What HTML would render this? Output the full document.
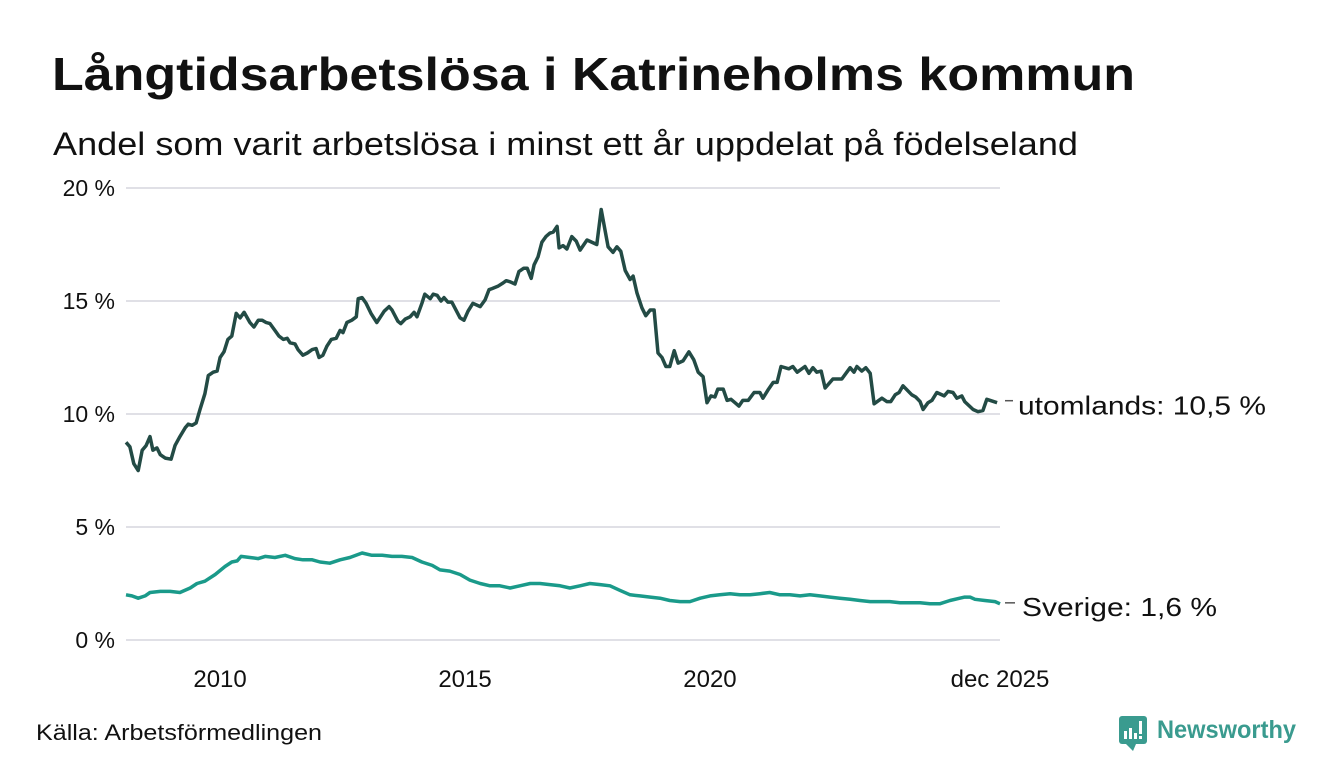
<!DOCTYPE html>
<html><head><meta charset="utf-8"><style>
html,body{margin:0;padding:0;background:#fff;width:1340px;height:780px;overflow:hidden}
svg text{font-family:"Liberation Sans","DejaVu Sans",sans-serif;fill:#111}
</style></head><body>
<svg id="chart" width="1340" height="780" xmlns="http://www.w3.org/2000/svg">
<text x="52" y="90" font-size="46" font-weight="bold" textLength="1083" lengthAdjust="spacingAndGlyphs">Långtidsarbetslösa i Katrineholms kommun</text>
<text x="53" y="155" font-size="32" textLength="1025" lengthAdjust="spacingAndGlyphs">Andel som varit arbetslösa i minst ett år uppdelat på födelseland</text>
<g id="grid"></g>
<g id="yticks"></g>
<g id="xticks"></g>
<g id="series"></g>
<text x="36" y="740" font-size="22" textLength="286" lengthAdjust="spacingAndGlyphs">Källa: Arbetsförmedlingen</text>
<g>
<rect x="1119" y="716" width="28" height="28" rx="3" fill="#3a9b8f"/>
<path d="M1126 744 L1133 751 L1136 744Z" fill="#3a9b8f"/>
<rect x="1124" y="731" width="3" height="8" fill="#fff"/><rect x="1129" y="728" width="3" height="11" fill="#fff"/><rect x="1134" y="733" width="3" height="6" fill="#fff"/><rect x="1139" y="721" width="3" height="13" fill="#fff"/><rect x="1139" y="736" width="3" height="3" fill="#fff"/>
<text x="1157" y="738" font-size="25" font-weight="bold" style="fill:#3a9b8f" textLength="139" lengthAdjust="spacingAndGlyphs">Newsworthy</text>
</g>
</svg>
<script>
const yTicks=[0,5,10,15,20];
const yTickLabels=["0 %","5 %","10 %","15 %","20 %"];
const xTicks=[2010,2015,2020,2025.92];
const xTickLabels=["2010","2015","2020","dec 2025"];
const utomDates=[2008.08,2008.16,2008.24,2008.33,2008.41,2008.49,2008.57,2008.63,2008.71,2008.78,2008.88,2009.0,2009.08,2009.18,2009.29,2009.35,2009.43,2009.51,2009.59,2009.69,2009.76,2009.86,2009.94,2010.0,2010.08,2010.16,2010.24,2010.33,2010.41,2010.49,2010.61,2010.69,2010.78,2010.86,2010.94,2011.02,2011.12,2011.2,2011.29,2011.37,2011.43,2011.53,2011.59,2011.69,2011.78,2011.88,2011.96,2012.02,2012.1,2012.18,2012.27,2012.37,2012.45,2012.51,2012.59,2012.69,2012.78,2012.82,2012.9,2012.98,2013.08,2013.2,2013.35,2013.45,2013.51,2013.63,2013.69,2013.78,2013.88,2013.96,2014.02,2014.12,2014.18,2014.29,2014.35,2014.43,2014.51,2014.57,2014.65,2014.73,2014.9,2014.98,2015.06,2015.16,2015.31,2015.41,2015.49,2015.55,2015.67,2015.78,2015.84,2015.92,2016.02,2016.1,2016.2,2016.27,2016.35,2016.41,2016.49,2016.57,2016.65,2016.73,2016.8,2016.88,2016.92,2017.0,2017.08,2017.18,2017.27,2017.35,2017.49,2017.69,2017.78,2017.92,2018.02,2018.1,2018.18,2018.27,2018.37,2018.43,2018.51,2018.61,2018.69,2018.78,2018.86,2018.94,2019.02,2019.1,2019.18,2019.27,2019.35,2019.45,2019.57,2019.67,2019.76,2019.86,2019.94,2020.02,2020.1,2020.16,2020.27,2020.35,2020.43,2020.51,2020.59,2020.67,2020.78,2020.9,2021.02,2021.08,2021.18,2021.29,2021.37,2021.45,2021.61,2021.69,2021.78,2021.94,2022.02,2022.1,2022.18,2022.27,2022.35,2022.51,2022.69,2022.86,2022.94,2023.0,2023.1,2023.18,2023.27,2023.35,2023.51,2023.61,2023.69,2023.78,2023.86,2023.94,2024.12,2024.2,2024.29,2024.35,2024.45,2024.53,2024.63,2024.78,2024.86,2024.96,2025.04,2025.14,2025.2,2025.37,2025.47,2025.57,2025.65,2025.86,2025.92];
const utomValues=[8.75,8.55,7.8,7.5,8.4,8.6,9.0,8.4,8.5,8.2,8.05,8.0,8.6,9.0,9.4,9.55,9.5,9.6,10.2,10.9,11.7,11.85,11.9,12.5,12.75,13.3,13.45,14.45,14.25,14.5,14.05,13.85,14.15,14.15,14.05,14.0,13.7,13.45,13.3,13.35,13.15,13.1,12.85,12.6,12.7,12.85,12.9,12.5,12.6,13.0,13.3,13.35,13.7,13.6,14.05,14.15,14.3,15.1,15.15,14.9,14.45,14.05,14.55,14.75,14.6,14.1,14.0,14.2,14.3,14.5,14.3,14.9,15.3,15.1,15.3,15.25,15.0,15.15,14.95,14.95,14.25,14.15,14.55,14.9,14.75,15.05,15.5,15.55,15.65,15.8,15.9,15.85,15.75,16.3,16.45,16.45,16.0,16.6,16.95,17.6,17.85,18.0,18.05,18.3,17.35,17.45,17.3,17.85,17.65,17.25,17.7,17.5,19.05,17.4,17.15,17.4,17.2,16.35,15.95,16.1,15.35,14.7,14.35,14.6,14.6,12.7,12.5,12.1,12.1,12.8,12.25,12.35,12.75,12.4,11.85,11.65,10.5,10.8,10.75,11.1,11.1,10.6,10.65,10.5,10.35,10.6,10.6,10.95,10.95,10.7,11.05,11.4,11.4,12.1,12.0,12.1,11.85,12.1,11.8,12.05,11.85,11.9,11.15,11.55,11.55,12.05,11.85,12.1,11.9,12.05,11.8,10.45,10.7,10.55,10.55,10.85,10.95,11.25,10.85,10.75,10.55,10.2,10.5,10.6,10.95,10.8,11.0,10.95,10.7,10.8,10.55,10.2,10.1,10.15,10.65,10.5];
const sveDates=[2008.08,2008.2,2008.33,2008.47,2008.57,2008.78,2008.98,2009.18,2009.39,2009.53,2009.69,2009.9,2010.1,2010.24,2010.35,2010.43,2010.61,2010.78,2010.92,2011.12,2011.33,2011.53,2011.69,2011.88,2012.04,2012.24,2012.45,2012.65,2012.9,2013.1,2013.31,2013.51,2013.71,2013.92,2014.12,2014.33,2014.49,2014.69,2014.9,2015.1,2015.31,2015.51,2015.71,2015.92,2016.12,2016.33,2016.53,2016.73,2016.94,2017.14,2017.35,2017.55,2017.76,2017.96,2018.16,2018.37,2018.57,2018.78,2018.98,2019.18,2019.39,2019.59,2019.8,2020.0,2020.2,2020.41,2020.61,2020.82,2021.02,2021.22,2021.43,2021.63,2021.84,2022.04,2022.24,2022.45,2022.65,2022.86,2023.06,2023.27,2023.47,2023.67,2023.88,2024.08,2024.29,2024.49,2024.69,2024.9,2025.1,2025.2,2025.31,2025.41,2025.61,2025.82,2025.92];
const sveValues=[2.0,1.95,1.85,1.95,2.1,2.15,2.15,2.1,2.3,2.5,2.6,2.9,3.25,3.45,3.5,3.7,3.65,3.6,3.7,3.65,3.75,3.6,3.55,3.55,3.45,3.4,3.55,3.65,3.85,3.75,3.75,3.7,3.7,3.65,3.45,3.3,3.1,3.05,2.9,2.65,2.5,2.4,2.4,2.3,2.4,2.5,2.5,2.45,2.4,2.3,2.4,2.5,2.45,2.4,2.2,2.0,1.95,1.9,1.85,1.75,1.7,1.7,1.85,1.95,2.0,2.05,2.0,2.0,2.05,2.1,2.0,2.0,1.95,2.0,1.95,1.9,1.85,1.8,1.75,1.7,1.7,1.7,1.65,1.65,1.65,1.6,1.6,1.75,1.85,1.9,1.9,1.8,1.75,1.7,1.6];

const X0=126,X1=1000,D0=2008.08,D1=2025.92;
const xs=d=>X0+(d-D0)/(D1-D0)*(X1-X0);
const ys=v=>640-v*22.6;
const NS="http://www.w3.org/2000/svg";
function mk(tag,attrs,parent){const e=document.createElementNS(NS,tag);for(const k in attrs)e.setAttribute(k,attrs[k]);parent.appendChild(e);return e;}
const grid=document.getElementById('grid'),yg=document.getElementById('yticks'),xg=document.getElementById('xticks'),sg=document.getElementById('series');
yTicks.forEach((t,i)=>{
  const l=mk('line',{x1:126,x2:1000,y1:ys(t),y2:ys(t),stroke:'#e0e0e6','stroke-width':2},grid);
  
  
  const tx=mk('text',{x:115,y:ys(t)+8,'font-size':23,'text-anchor':'end'},yg);
  tx.textContent=yTickLabels[i];
  
  
});
xTicks.forEach((t,i)=>{
  const tx=mk('text',{x:xs(t),y:687,'font-size':24,'text-anchor':'middle'},xg);
  tx.textContent=xTickLabels[i];
  
  
});
function line(dates,vals,color,name){
  const d=dates.map((t,i)=>(i?'L':'M')+xs(t).toFixed(1)+' '+ys(vals[i]).toFixed(1)).join(' ');
  const p=mk('path',{d:d,fill:'none',stroke:color,'stroke-width':3.5,'stroke-linejoin':'round'},sg);
  
  
}
line(sveDates,sveValues,'#1a9a8a','line-sverige');
line(utomDates,utomValues,'#234b45','line-utomlands');
const lu=utomValues[utomValues.length-1],ls=sveValues[sveValues.length-1];
mk('line',{x1:1005,x2:1013,y1:ys(lu)-2,y2:ys(lu)-2,stroke:'#555','stroke-width':1.5},sg);
mk('line',{x1:1005,x2:1015,y1:ys(ls)-1,y2:ys(ls)-1,stroke:'#555','stroke-width':1.5},sg);
const t1=mk('text',{x:1018,y:ys(lu)+12,'font-size':26,textLength:248,lengthAdjust:'spacingAndGlyphs'},sg);
t1.textContent='utomlands: '+lu.toFixed(1).replace('.',',')+' %';


const t2=mk('text',{x:1022,y:ys(ls)+12,'font-size':26,textLength:195,lengthAdjust:'spacingAndGlyphs'},sg);
t2.textContent='Sverige:  '+ls.toFixed(1).replace('.',',')+' %';


</script>
</body></html>
